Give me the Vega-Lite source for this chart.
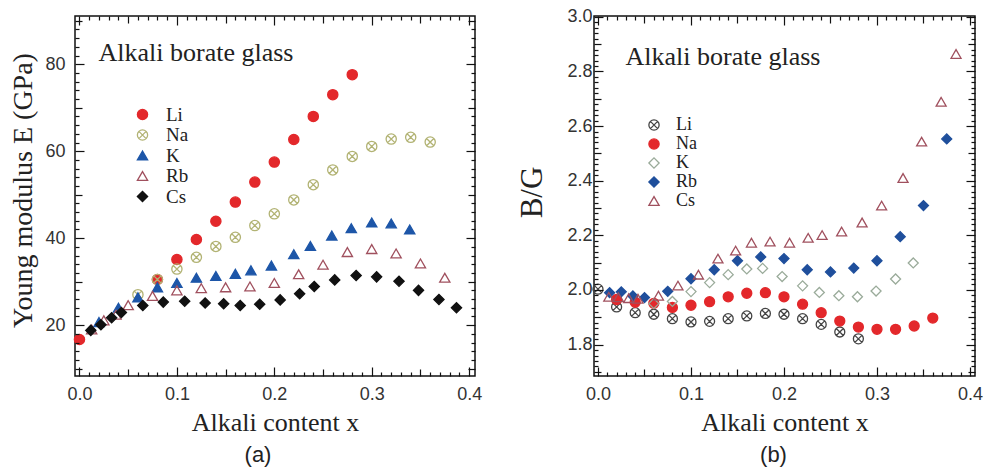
{
  "$schema": "https://vega.github.io/schema/vega-lite/v6.json",
  "padding": {"left": 8, "top": 7, "right": 0, "bottom": 0},
  "bounds": "flush",
  "spacing": 119,
  "background": "white",
  "resolve": {"scale": {"shape": "independent", "fill": "independent", "stroke": "independent"}, "legend": {"shape": "independent", "fill": "independent", "stroke": "independent"}},
  "config": {
    "view": {"stroke": "#111", "strokeWidth": 1.5},
    "axis": {"domain": false, "grid": false, "ticks": true, "tickColor": "#111", "tickWidth": 1.2, "labelFont": "Liberation Sans", "labelFontSize": 18, "labelColor": "#333", "titleFont": "Liberation Serif", "titleFontWeight": "normal", "titleColor": "#222", "labelFlush": false, "labelOverlap": false},
    "legend": {"orient": "none", "title": null, "labelFont": "Liberation Serif", "labelColor": "#222", "padding": 0, "symbolSize": 105, "symbolStrokeWidth": 1.3},
    "title": {"font": "Liberation Sans", "fontSize": 22, "fontWeight": "normal", "color": "#222", "orient": "bottom", "offset": 10}
  },
  "datasets": {
    "E": [
      {"s": "Li", "x": 0, "y": 16.7}, {"s": "Li", "x": 0.08, "y": 30.5}, {"s": "Li", "x": 0.10, "y": 35.1}, {"s": "Li", "x": 0.12, "y": 39.7}, {"s": "Li", "x": 0.14, "y": 43.9}, {"s": "Li", "x": 0.16, "y": 48.3}, {"s": "Li", "x": 0.18, "y": 52.9}, {"s": "Li", "x": 0.20, "y": 57.5}, {"s": "Li", "x": 0.22, "y": 62.7}, {"s": "Li", "x": 0.24, "y": 68.0}, {"s": "Li", "x": 0.26, "y": 73.0}, {"s": "Li", "x": 0.28, "y": 77.6},
      {"s": "Na", "x": 0.06, "y": 27.0}, {"s": "Na", "x": 0.08, "y": 30.5}, {"s": "Na", "x": 0.10, "y": 32.9}, {"s": "Na", "x": 0.12, "y": 35.6}, {"s": "Na", "x": 0.14, "y": 38.1}, {"s": "Na", "x": 0.16, "y": 40.2}, {"s": "Na", "x": 0.18, "y": 42.9}, {"s": "Na", "x": 0.20, "y": 45.6}, {"s": "Na", "x": 0.22, "y": 48.8}, {"s": "Na", "x": 0.24, "y": 52.3}, {"s": "Na", "x": 0.26, "y": 55.7}, {"s": "Na", "x": 0.28, "y": 58.8}, {"s": "Na", "x": 0.30, "y": 61.1}, {"s": "Na", "x": 0.32, "y": 62.8}, {"s": "Na", "x": 0.34, "y": 63.2}, {"s": "Na", "x": 0.36, "y": 62.1},
      {"s": "K", "x": 0.02, "y": 20.7}, {"s": "K", "x": 0.04, "y": 24.0}, {"s": "K", "x": 0.06, "y": 26.4}, {"s": "K", "x": 0.08, "y": 28.7}, {"s": "K", "x": 0.10, "y": 29.7}, {"s": "K", "x": 0.12, "y": 30.9}, {"s": "K", "x": 0.14, "y": 31.3}, {"s": "K", "x": 0.16, "y": 31.8}, {"s": "K", "x": 0.176, "y": 32.6}, {"s": "K", "x": 0.197, "y": 33.7}, {"s": "K", "x": 0.22, "y": 36.3}, {"s": "K", "x": 0.237, "y": 38.2}, {"s": "K", "x": 0.259, "y": 40.6}, {"s": "K", "x": 0.279, "y": 42.3}, {"s": "K", "x": 0.30, "y": 43.6}, {"s": "K", "x": 0.32, "y": 43.4}, {"s": "K", "x": 0.339, "y": 42.0},
      {"s": "Rb", "x": 0.0125, "y": 19.0}, {"s": "Rb", "x": 0.025, "y": 21.1}, {"s": "Rb", "x": 0.0375, "y": 22.4}, {"s": "Rb", "x": 0.05, "y": 24.6}, {"s": "Rb", "x": 0.075, "y": 26.7}, {"s": "Rb", "x": 0.10, "y": 28.0}, {"s": "Rb", "x": 0.125, "y": 28.5}, {"s": "Rb", "x": 0.15, "y": 28.7}, {"s": "Rb", "x": 0.175, "y": 28.9}, {"s": "Rb", "x": 0.20, "y": 29.7}, {"s": "Rb", "x": 0.225, "y": 31.7}, {"s": "Rb", "x": 0.25, "y": 33.9}, {"s": "Rb", "x": 0.275, "y": 36.8}, {"s": "Rb", "x": 0.30, "y": 37.5}, {"s": "Rb", "x": 0.325, "y": 36.5}, {"s": "Rb", "x": 0.35, "y": 34.2}, {"s": "Rb", "x": 0.375, "y": 30.9},
      {"s": "Cs", "x": 0.0116, "y": 18.8}, {"s": "Cs", "x": 0.022, "y": 20.1}, {"s": "Cs", "x": 0.033, "y": 21.7}, {"s": "Cs", "x": 0.043, "y": 22.9}, {"s": "Cs", "x": 0.065, "y": 24.5}, {"s": "Cs", "x": 0.086, "y": 25.3}, {"s": "Cs", "x": 0.108, "y": 25.5}, {"s": "Cs", "x": 0.129, "y": 25.1}, {"s": "Cs", "x": 0.148, "y": 24.9}, {"s": "Cs", "x": 0.165, "y": 24.5}, {"s": "Cs", "x": 0.185, "y": 24.8}, {"s": "Cs", "x": 0.206, "y": 25.8}, {"s": "Cs", "x": 0.226, "y": 27.2}, {"s": "Cs", "x": 0.241, "y": 28.9}, {"s": "Cs", "x": 0.262, "y": 30.4}, {"s": "Cs", "x": 0.284, "y": 31.4}, {"s": "Cs", "x": 0.305, "y": 31.1}, {"s": "Cs", "x": 0.328, "y": 30.1}, {"s": "Cs", "x": 0.348, "y": 28.0}, {"s": "Cs", "x": 0.369, "y": 25.9}, {"s": "Cs", "x": 0.387, "y": 24.0}
    ],
    "BG": [
      {"s": "Li", "x": 0, "y": 2.003}, {"s": "Li", "x": 0.02, "y": 1.938}, {"s": "Li", "x": 0.04, "y": 1.917}, {"s": "Li", "x": 0.06, "y": 1.911}, {"s": "Li", "x": 0.08, "y": 1.895}, {"s": "Li", "x": 0.10, "y": 1.883}, {"s": "Li", "x": 0.12, "y": 1.885}, {"s": "Li", "x": 0.14, "y": 1.895}, {"s": "Li", "x": 0.16, "y": 1.905}, {"s": "Li", "x": 0.18, "y": 1.914}, {"s": "Li", "x": 0.20, "y": 1.911}, {"s": "Li", "x": 0.22, "y": 1.895}, {"s": "Li", "x": 0.24, "y": 1.874}, {"s": "Li", "x": 0.26, "y": 1.846}, {"s": "Li", "x": 0.28, "y": 1.821},
      {"s": "Na", "x": 0.02, "y": 1.965}, {"s": "Na", "x": 0.04, "y": 1.955}, {"s": "Na", "x": 0.06, "y": 1.951}, {"s": "Na", "x": 0.08, "y": 1.936}, {"s": "Na", "x": 0.10, "y": 1.944}, {"s": "Na", "x": 0.12, "y": 1.957}, {"s": "Na", "x": 0.14, "y": 1.975}, {"s": "Na", "x": 0.16, "y": 1.988}, {"s": "Na", "x": 0.18, "y": 1.990}, {"s": "Na", "x": 0.20, "y": 1.975}, {"s": "Na", "x": 0.22, "y": 1.948}, {"s": "Na", "x": 0.24, "y": 1.917}, {"s": "Na", "x": 0.26, "y": 1.886}, {"s": "Na", "x": 0.28, "y": 1.864}, {"s": "Na", "x": 0.30, "y": 1.856}, {"s": "Na", "x": 0.32, "y": 1.856}, {"s": "Na", "x": 0.34, "y": 1.868}, {"s": "Na", "x": 0.36, "y": 1.897},
      {"s": "K", "x": 0.06, "y": 1.950}, {"s": "K", "x": 0.08, "y": 1.958}, {"s": "K", "x": 0.10, "y": 1.994}, {"s": "K", "x": 0.12, "y": 2.027}, {"s": "K", "x": 0.14, "y": 2.056}, {"s": "K", "x": 0.16, "y": 2.077}, {"s": "K", "x": 0.177, "y": 2.079}, {"s": "K", "x": 0.198, "y": 2.049}, {"s": "K", "x": 0.22, "y": 2.015}, {"s": "K", "x": 0.238, "y": 1.991}, {"s": "K", "x": 0.259, "y": 1.979}, {"s": "K", "x": 0.279, "y": 1.975}, {"s": "K", "x": 0.299, "y": 1.996}, {"s": "K", "x": 0.32, "y": 2.040}, {"s": "K", "x": 0.339, "y": 2.099},
      {"s": "Rb", "x": 0.0125, "y": 1.990}, {"s": "Rb", "x": 0.025, "y": 1.993}, {"s": "Rb", "x": 0.0375, "y": 1.978}, {"s": "Rb", "x": 0.05, "y": 1.972}, {"s": "Rb", "x": 0.075, "y": 1.995}, {"s": "Rb", "x": 0.10, "y": 2.041}, {"s": "Rb", "x": 0.125, "y": 2.074}, {"s": "Rb", "x": 0.15, "y": 2.107}, {"s": "Rb", "x": 0.175, "y": 2.121}, {"s": "Rb", "x": 0.20, "y": 2.115}, {"s": "Rb", "x": 0.225, "y": 2.074}, {"s": "Rb", "x": 0.25, "y": 2.066}, {"s": "Rb", "x": 0.275, "y": 2.080}, {"s": "Rb", "x": 0.30, "y": 2.107}, {"s": "Rb", "x": 0.325, "y": 2.195}, {"s": "Rb", "x": 0.35, "y": 2.309}, {"s": "Rb", "x": 0.375, "y": 2.553},
      {"s": "Cs", "x": 0.0116, "y": 1.975}, {"s": "Cs", "x": 0.022, "y": 1.973}, {"s": "Cs", "x": 0.033, "y": 1.970}, {"s": "Cs", "x": 0.043, "y": 1.968}, {"s": "Cs", "x": 0.065, "y": 1.979}, {"s": "Cs", "x": 0.086, "y": 2.016}, {"s": "Cs", "x": 0.108, "y": 2.056}, {"s": "Cs", "x": 0.129, "y": 2.115}, {"s": "Cs", "x": 0.148, "y": 2.144}, {"s": "Cs", "x": 0.165, "y": 2.173}, {"s": "Cs", "x": 0.185, "y": 2.177}, {"s": "Cs", "x": 0.206, "y": 2.173}, {"s": "Cs", "x": 0.226, "y": 2.191}, {"s": "Cs", "x": 0.241, "y": 2.201}, {"s": "Cs", "x": 0.262, "y": 2.214}, {"s": "Cs", "x": 0.284, "y": 2.247}, {"s": "Cs", "x": 0.305, "y": 2.309}, {"s": "Cs", "x": 0.328, "y": 2.410}, {"s": "Cs", "x": 0.348, "y": 2.543}, {"s": "Cs", "x": 0.369, "y": 2.689}, {"s": "Cs", "x": 0.385, "y": 2.864}
    ]
  },
  "hconcat": [
    {
      "width": 400,
      "height": 360,
      "title": {"text": "(a)", "dx": -17},
      "resolve": {"axis": {"x": "independent", "y": "independent"}},
      "layer": [
        {
          "data": {"name": "E"},
          "mark": {"type": "point", "filled": true, "size": 105, "strokeWidth": 1.3, "opacity": 1},
          "encoding": {
            "x": {"field": "x", "type": "quantitative", "scale": {"domain": [-0.0046, 0.406], "nice": false, "zero": false},
              "axis": {"orient": "bottom", "zindex": 1, "values": [0,0.01,0.02,0.03,0.04,0.05,0.06,0.07,0.08,0.09,0.1,0.11,0.12,0.13,0.14,0.15,0.16,0.17,0.18,0.19,0.2,0.21,0.22,0.23,0.24,0.25,0.26,0.27,0.28,0.29,0.3,0.31,0.32,0.33,0.34,0.35,0.36,0.37,0.38,0.39,0.4],
                "labelExpr": "abs(datum.value*10-round(datum.value*10))<0.001 ? format(datum.value, '.1f') : ''",
                "tickSize": {"condition": {"test": "abs(datum.value*10-round(datum.value*10))<0.001", "value": -9}, "expr": "abs(datum.value*20-round(datum.value*20))<0.001 ? -7 : -4"},
                "labelPadding": 18,
                "title": "Alkali content x", "titleFontSize": 26, "titleY": 54, "titleBaseline": "alphabetic"}},
            "y": {"field": "y", "type": "quantitative", "scale": {"domain": [8.3, 91.1], "nice": false, "zero": false},
              "axis": {"orient": "left", "zindex": 1, "values": [10,12,14,16,18,20,22,24,26,28,30,32,34,36,38,40,42,44,46,48,50,52,54,56,58,60,62,64,66,68,70,72,74,76,78,80,82,84,86,88,90],
                "labelExpr": "datum.value % 20 === 0 ? datum.label : ''",
                "tickSize": {"condition": {"test": "datum.value % 20 === 0", "value": -9}, "expr": "datum.value % 10 === 0 ? -7 : -4"},
                "labelPadding": 19,
                "title": "Young modulus E (GPa)", "titleFontSize": 28, "titleX": -44, "titleY": 174, "titleAngle": -90, "titleAlign": "center", "titleBaseline": "alphabetic"}},
            "shape": {"field": "s", "type": "nominal", "scale": {"domain": ["Li", "Na", "K", "Rb", "Cs"], "range": ["circle", "M-1,0A1,1,0,1,1,1,0A1,1,0,1,1,-1,0ZM-0.7,-0.7L0.7,0.7M-0.7,0.7L0.7,-0.7", "triangle-up", "triangle-up", "diamond"]},
              "legend": {"legendX": 58, "legendY": 89, "labelFontSize": 19, "rowPadding": 0.5, "labelOffset": 14}},
            "fill": {"field": "s", "type": "nominal", "scale": {"domain": ["Li", "Na", "K", "Rb", "Cs"], "range": ["#e3282b", "transparent", "#1d56a8", "transparent", "#111111"]},
              "legend": {"legendX": 58, "legendY": 89, "labelFontSize": 19, "rowPadding": 0.5, "labelOffset": 14}},
            "stroke": {"field": "s", "type": "nominal", "scale": {"domain": ["Li", "Na", "K", "Rb", "Cs"], "range": ["#e3282b", "#b2b374", "#1d56a8", "#a0505e", "#111111"]},
              "legend": {"legendX": 58, "legendY": 89, "labelFontSize": 19, "rowPadding": 0.5, "labelOffset": 14}}
          }
        },
        {
          "data": {"name": "E"},
          "mark": {"type": "point", "opacity": 0},
          "encoding": {
            "x": {"field": "x", "type": "quantitative", "scale": {"domain": [-0.0046, 0.406], "nice": false, "zero": false},
              "axis": {"orient": "top", "zindex": 1, "values": [0,0.01,0.02,0.03,0.04,0.05,0.06,0.07,0.08,0.09,0.1,0.11,0.12,0.13,0.14,0.15,0.16,0.17,0.18,0.19,0.2,0.21,0.22,0.23,0.24,0.25,0.26,0.27,0.28,0.29,0.3,0.31,0.32,0.33,0.34,0.35,0.36,0.37,0.38,0.39,0.4],
                "labels": false,
                "tickSize": {"condition": {"test": "abs(datum.value*10-round(datum.value*10))<0.001", "value": -9}, "expr": "abs(datum.value*20-round(datum.value*20))<0.001 ? -7 : -4"},
                "title": "Alkali borate glass", "titleFontSize": 26, "titleX": 23, "titleY": 44, "titleAlign": "left", "titleBaseline": "alphabetic", "titleAngle": 0}},
            "y": {"field": "y", "type": "quantitative", "scale": {"domain": [8.3, 91.1], "nice": false, "zero": false},
              "axis": {"orient": "right", "zindex": 1, "values": [10,12,14,16,18,20,22,24,26,28,30,32,34,36,38,40,42,44,46,48,50,52,54,56,58,60,62,64,66,68,70,72,74,76,78,80,82,84,86,88,90],
                "labels": false, "title": null,
                "tickSize": {"condition": {"test": "datum.value % 20 === 0", "value": -9}, "expr": "datum.value % 10 === 0 ? -7 : -4"}}}
          }
        }
      ]
    },
    {
      "width": 381,
      "height": 360,
      "title": {"text": "(b)", "dx": -11},
      "resolve": {"axis": {"x": "independent", "y": "independent"}},
      "layer": [
        {
          "data": {"name": "BG"},
          "mark": {"type": "point", "filled": true, "size": 100, "strokeWidth": 1.3, "opacity": 1},
          "encoding": {
            "x": {"field": "x", "type": "quantitative", "scale": {"domain": [-0.0043, 0.4054], "nice": false, "zero": false},
              "axis": {"orient": "bottom", "zindex": 1, "values": [0,0.01,0.02,0.03,0.04,0.05,0.06,0.07,0.08,0.09,0.1,0.11,0.12,0.13,0.14,0.15,0.16,0.17,0.18,0.19,0.2,0.21,0.22,0.23,0.24,0.25,0.26,0.27,0.28,0.29,0.3,0.31,0.32,0.33,0.34,0.35,0.36,0.37,0.38,0.39,0.4],
                "labelExpr": "abs(datum.value*10-round(datum.value*10))<0.001 ? format(datum.value, '.1f') : ''",
                "tickSize": {"condition": {"test": "abs(datum.value*10-round(datum.value*10))<0.001", "value": -9}, "expr": "abs(datum.value*20-round(datum.value*20))<0.001 ? -7 : -4"},
                "labelPadding": 18,
                "title": "Alkali content x", "titleFontSize": 26, "titleY": 54, "titleBaseline": "alphabetic"}},
            "y": {"field": "y", "type": "quantitative", "scale": {"domain": [1.685, 3.003], "nice": false, "zero": false},
              "axis": {"orient": "left", "zindex": 1, "values": [1.7,1.72,1.74,1.76,1.78,1.8,1.82,1.84,1.86,1.88,1.9,1.92,1.94,1.96,1.98,2.0,2.02,2.04,2.06,2.08,2.1,2.12,2.14,2.16,2.18,2.2,2.22,2.24,2.26,2.28,2.3,2.32,2.34,2.36,2.38,2.4,2.42,2.44,2.46,2.48,2.5,2.52,2.54,2.56,2.58,2.6,2.62,2.64,2.66,2.68,2.7,2.72,2.74,2.76,2.78,2.8,2.82,2.84,2.86,2.88,2.9,2.92,2.94,2.96,2.98,3.0],
                "labelExpr": "round(datum.value*100) % 20 === 0 ? format(datum.value, '.1f') : ''",
                "tickSize": {"condition": {"test": "round(datum.value*100) % 20 === 0", "value": -9}, "expr": "round(datum.value*100) % 10 === 0 ? -7 : -4"},
                "labelPadding": 11,
                "title": "B/G", "titleFontSize": 31, "titleX": -53, "titleY": 176, "titleAngle": -90, "titleAlign": "center", "titleBaseline": "alphabetic"}},
            "shape": {"field": "s", "type": "nominal", "scale": {"domain": ["Li", "Na", "K", "Rb", "Cs"], "range": ["M-1,0A1,1,0,1,1,1,0A1,1,0,1,1,-1,0ZM-0.7,-0.7L0.7,0.7M-0.7,0.7L0.7,-0.7", "circle", "diamond", "diamond", "triangle-up"]},
              "legend": {"legendX": 51, "legendY": 100, "labelFontSize": 18, "rowPadding": 1, "labelOffset": 13}},
            "fill": {"field": "s", "type": "nominal", "scale": {"domain": ["Li", "Na", "K", "Rb", "Cs"], "range": ["transparent", "#e3282b", "transparent", "#1f4f9c", "transparent"]},
              "legend": {"legendX": 51, "legendY": 100, "labelFontSize": 18, "rowPadding": 1, "labelOffset": 13}},
            "stroke": {"field": "s", "type": "nominal", "scale": {"domain": ["Li", "Na", "K", "Rb", "Cs"], "range": ["#444444", "#e3282b", "#9aab9a", "#1f4f9c", "#a0505e"]},
              "legend": {"legendX": 51, "legendY": 100, "labelFontSize": 18, "rowPadding": 1, "labelOffset": 13}}
          }
        },
        {
          "data": {"name": "BG"},
          "mark": {"type": "point", "opacity": 0},
          "encoding": {
            "x": {"field": "x", "type": "quantitative", "scale": {"domain": [-0.0043, 0.4054], "nice": false, "zero": false},
              "axis": {"orient": "top", "zindex": 1, "values": [0,0.01,0.02,0.03,0.04,0.05,0.06,0.07,0.08,0.09,0.1,0.11,0.12,0.13,0.14,0.15,0.16,0.17,0.18,0.19,0.2,0.21,0.22,0.23,0.24,0.25,0.26,0.27,0.28,0.29,0.3,0.31,0.32,0.33,0.34,0.35,0.36,0.37,0.38,0.39,0.4],
                "labels": false,
                "tickSize": {"condition": {"test": "abs(datum.value*10-round(datum.value*10))<0.001", "value": -9}, "expr": "abs(datum.value*20-round(datum.value*20))<0.001 ? -7 : -4"},
                "title": "Alkali borate glass", "titleFontSize": 26, "titleX": 31, "titleY": 48, "titleAlign": "left", "titleBaseline": "alphabetic", "titleAngle": 0}},
            "y": {"field": "y", "type": "quantitative", "scale": {"domain": [1.685, 3.003], "nice": false, "zero": false},
              "axis": {"orient": "right", "zindex": 1, "values": [1.7,1.72,1.74,1.76,1.78,1.8,1.82,1.84,1.86,1.88,1.9,1.92,1.94,1.96,1.98,2.0,2.02,2.04,2.06,2.08,2.1,2.12,2.14,2.16,2.18,2.2,2.22,2.24,2.26,2.28,2.3,2.32,2.34,2.36,2.38,2.4,2.42,2.44,2.46,2.48,2.5,2.52,2.54,2.56,2.58,2.6,2.62,2.64,2.66,2.68,2.7,2.72,2.74,2.76,2.78,2.8,2.82,2.84,2.86,2.88,2.9,2.92,2.94,2.96,2.98,3.0],
                "labels": false, "title": null,
                "tickSize": {"condition": {"test": "round(datum.value*100) % 20 === 0", "value": -9}, "expr": "round(datum.value*100) % 10 === 0 ? -7 : -4"}}}
          }
        }
      ]
    }
  ]
}
